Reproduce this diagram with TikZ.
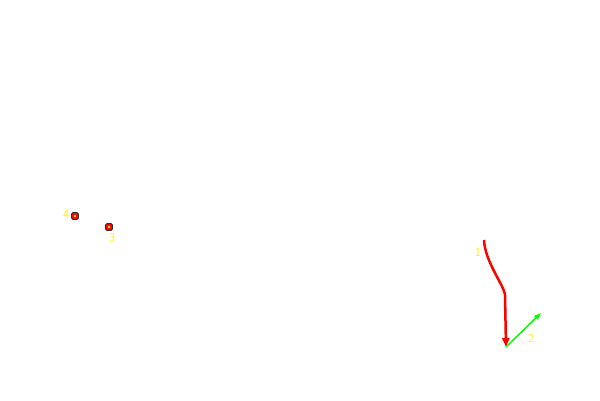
\documentclass[tikz,border=0pt]{standalone}
\usetikzlibrary{arrows.meta}
\begin{document}
\begin{tikzpicture}[x=1pt,y=-1pt,
  lbl/.style={text=yellow,font=\sffamily\fontsize{12}{12}\selectfont,inner sep=0pt},
  pt/.style={rectangle,rounded corners=1.5pt,draw=black!80,fill=red,line width=0.8pt,minimum size=7pt,inner sep=0pt,path picture={\fill[yellow] (path picture bounding box.center) circle (1.3pt);}}]
\useasboundingbox (0,0) rectangle (600,400);
\node[pt] (p4) at (75,216) {};
\node[pt] (p3) at (109,227) {};
\node[lbl] (l4) at (66,215) {4};
\node[lbl] (l3) at (112,238) {3};
\coordinate (s) at (484,240);
\coordinate (k) at (505,295);
\coordinate (e) at (506,347);
\coordinate (g) at (541,313);
\draw[red,line width=2.5pt,-{Triangle[length=9pt,width=7pt]}] (s) .. controls (485,262) and (504,285) .. (k) -- (e);
\draw[green,line width=1.5pt,-{Triangle[length=7pt,width=5pt]}] (e) -- (g);
\node[lbl] (l1) at (478,252) {1};
\node[lbl] (l2) at (531,338) {2};
\end{tikzpicture}
\end{document}
